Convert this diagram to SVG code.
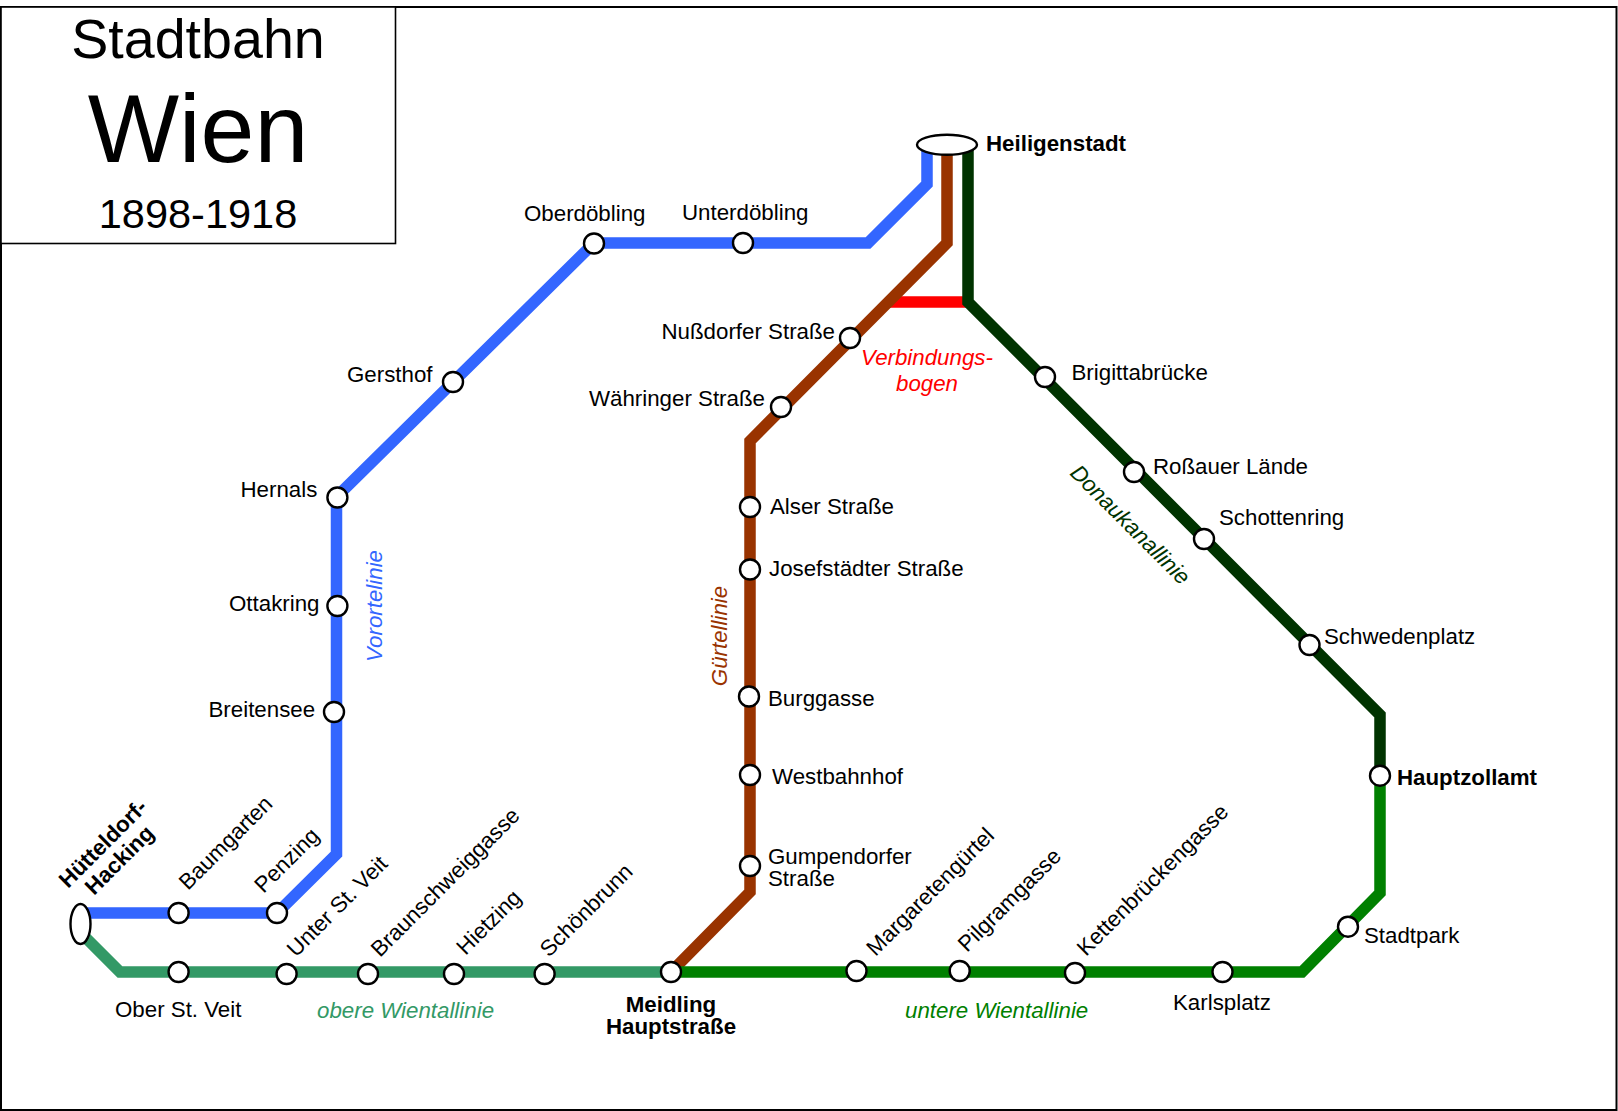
<svg xmlns="http://www.w3.org/2000/svg" width="1618" height="1111" viewBox="0 0 1618 1111">
<style>
text{font-family:"Liberation Sans",Arial,sans-serif;font-size:22.3px;fill:#000}
.b{font-weight:bold}
.i{font-style:italic}
.t{text-anchor:middle}
.line{fill:none;stroke-width:11.5;stroke-linejoin:miter}
.st{fill:#fff;stroke:#000;stroke-width:2.4}
</style>
<rect x="0" y="0" width="1618" height="1111" fill="#fff"/>
<rect x="1" y="7" width="1615.5" height="1103" fill="#fff" stroke="#000" stroke-width="2"/>
<g id="title">
<rect x="1" y="7" width="394.5" height="236.5" fill="#fff" stroke="#000" stroke-width="1.6"/>
<text class="t" x="198" y="58" style="font-size:55.6px">Stadtbahn</text>
<text class="t" x="198" y="162" style="font-size:96.8px">Wien</text>
<text class="t" x="198" y="228" style="font-size:41.5px">1898-1918</text>
</g>
<g id="connectors">
<polyline id="verbindungsbogen" class="line" stroke="#ff0000" points="889,302 968,302"/>
<polyline id="vorortelinie" class="line" stroke="#3366ff" points="80,913 277,913 336.5,854 336.5,497 594,243 868,243 927,184 927,145"/>
<polyline id="guertellinie" class="line" stroke="#993300" points="947,145 947,243 750,441 750,892 671,972"/>
<polyline id="donaukanallinie" class="line" stroke="#003300" points="968,145 968,302 1380,715 1380,776"/>
<polyline id="untere-wientallinie" class="line" stroke="#008000" points="671,972 1302,972 1380,893 1380,776"/>
<polyline id="obere-wientallinie" class="line" stroke="#339966" points="76,928 120,972 671,972"/>
</g>
<g id="line-labels">
<text class="i t" x="927" y="365" style="fill:#ff0000">Verbindungs-</text>
<text class="i t" x="927" y="391" style="fill:#ff0000">bogen</text>
<text class="i t" transform="translate(382,606) rotate(-90)" style="fill:#3366ff">Vorortelinie</text>
<text class="i t" transform="translate(727,636) rotate(-90)" style="fill:#993300">Gürtellinie</text>
<text class="i t" transform="translate(1125,530) rotate(45)" style="fill:#003300">Donaukanallinie</text>
<text class="i" x="317" y="1018" style="fill:#339966">obere Wientallinie</text>
<text class="i" x="905" y="1018" style="fill:#008000">untere Wientallinie</text>
</g>
<g id="huetteldorf"><ellipse class="st" cx="80.5" cy="924" rx="10" ry="20"/><text class="b" transform="translate(68,889) rotate(-45)">Hütteldorf-</text><text class="b" transform="translate(94,896) rotate(-45)">Hacking</text></g>
<g id="baumgarten"><circle class="st" cx="178.6" cy="913" r="10"/><text transform="translate(188,891) rotate(-45)">Baumgarten</text></g>
<g id="penzing"><circle class="st" cx="277" cy="913" r="10"/><text transform="translate(263.5,894) rotate(-45)">Penzing</text></g>
<g id="breitensee"><circle class="st" cx="334" cy="712" r="10"/><text x="208.5" y="717">Breitensee</text></g>
<g id="ottakring"><circle class="st" cx="337.4" cy="606" r="10"/><text x="229" y="611">Ottakring</text></g>
<g id="hernals"><circle class="st" cx="337.4" cy="497.5" r="10"/><text x="240.5" y="497">Hernals</text></g>
<g id="gersthof"><circle class="st" cx="453" cy="382" r="10"/><text x="347" y="382">Gersthof</text></g>
<g id="oberdoebling"><circle class="st" cx="594" cy="243.5" r="10"/><text x="524" y="221">Oberdöbling</text></g>
<g id="unterdoebling"><circle class="st" cx="743" cy="243" r="10"/><text x="682" y="220">Unterdöbling</text></g>
<g id="heiligenstadt"><ellipse class="st" cx="947" cy="144.7" rx="30" ry="10"/><text class="b" x="986" y="151">Heiligenstadt</text></g>
<g id="nussdorfer"><circle class="st" cx="850" cy="338" r="10"/><text x="661.5" y="339">Nußdorfer Straße</text></g>
<g id="waehringer"><circle class="st" cx="781" cy="407" r="10"/><text x="589" y="406">Währinger Straße</text></g>
<g id="alser"><circle class="st" cx="750" cy="507" r="10"/><text x="770" y="514">Alser Straße</text></g>
<g id="josefstaedter"><circle class="st" cx="750" cy="569.5" r="10"/><text x="769" y="576">Josefstädter Straße</text></g>
<g id="burggasse"><circle class="st" cx="749" cy="696.5" r="10"/><text x="768" y="706">Burggasse</text></g>
<g id="westbahnhof"><circle class="st" cx="750" cy="775" r="10"/><text x="772" y="784">Westbahnhof</text></g>
<g id="gumpendorfer"><circle class="st" cx="750" cy="866" r="10"/><text x="768" y="864">Gumpendorfer</text><text x="768" y="886">Straße</text></g>
<g id="brigittabruecke"><circle class="st" cx="1045" cy="377" r="10"/><text x="1071.5" y="380">Brigittabrücke</text></g>
<g id="rossauer"><circle class="st" cx="1134" cy="472" r="10"/><text x="1153" y="474">Roßauer Lände</text></g>
<g id="schottenring"><circle class="st" cx="1204" cy="539" r="10"/><text x="1219" y="525">Schottenring</text></g>
<g id="schwedenplatz"><circle class="st" cx="1309.5" cy="645" r="10"/><text x="1324" y="644">Schwedenplatz</text></g>
<g id="hauptzollamt"><circle class="st" cx="1380" cy="775.7" r="10"/><text class="b" x="1397" y="785">Hauptzollamt</text></g>
<g id="stadtpark"><circle class="st" cx="1348" cy="926.7" r="10"/><text x="1364" y="943">Stadtpark</text></g>
<g id="karlsplatz"><circle class="st" cx="1222.5" cy="972" r="10"/><text x="1173" y="1010">Karlsplatz</text></g>
<g id="kettenbrueckengasse"><circle class="st" cx="1075" cy="973" r="10"/><text transform="translate(1086,957) rotate(-45)">Kettenbrückengasse</text></g>
<g id="pilgramgasse"><circle class="st" cx="959.7" cy="971" r="10"/><text transform="translate(967,953) rotate(-45)">Pilgramgasse</text></g>
<g id="margaretenguertel"><circle class="st" cx="856.5" cy="971" r="10"/><text transform="translate(875.5,957) rotate(-45)">Margaretengürtel</text></g>
<g id="meidling"><circle class="st" cx="671" cy="972" r="10"/><text class="b t" x="671" y="1012">Meidling</text><text class="b t" x="671" y="1034">Hauptstraße</text></g>
<g id="schoenbrunn"><circle class="st" cx="544.6" cy="974" r="10"/><text transform="translate(549,958) rotate(-45)">Schönbrunn</text></g>
<g id="hietzing"><circle class="st" cx="454" cy="974" r="10"/><text transform="translate(465.5,956) rotate(-45)">Hietzing</text></g>
<g id="braunschweiggasse"><circle class="st" cx="368" cy="974" r="10"/><text transform="translate(380,958) rotate(-45)">Braunschweiggasse</text></g>
<g id="unter-st-veit"><circle class="st" cx="286.6" cy="974" r="10"/><text transform="translate(296,958) rotate(-45)">Unter St. Veit</text></g>
<g id="ober-st-veit"><circle class="st" cx="178.6" cy="972" r="10"/><text x="115" y="1017">Ober St. Veit</text></g>
</svg>
